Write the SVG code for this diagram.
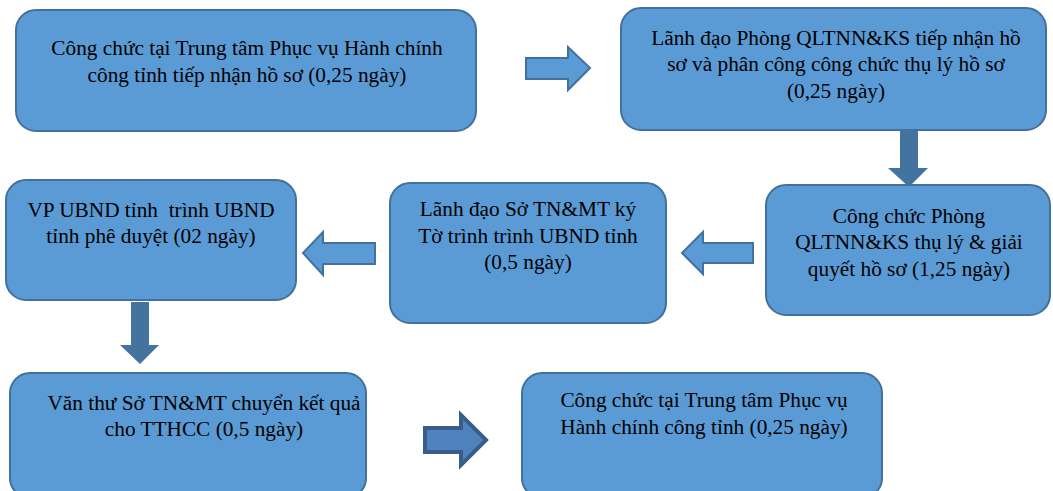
<svg xmlns="http://www.w3.org/2000/svg" width="1053" height="491" viewBox="0 0 1053 491">
<style>
.box{fill:#5B9BD5;stroke:#41719C;stroke-width:2}
.t{font-family:"Liberation Serif","Times New Roman",serif;font-size:21.3px;fill:#000;text-anchor:middle}
.ar{fill:#5B9BD5;stroke:#41719C;stroke-width:2}
.ad{fill:#44739F;stroke:none}
.a6{fill:#4F81BD;stroke:#385D8A;stroke-width:4}
</style>
<rect width="1053" height="491" fill="#fff"/>
<g id="connectors">
<polygon class="ar" points="526,58 568,58 568,47 590,68 568,90 568,79 526,79"/>
<polygon class="ad" points="900,126 918,126 918,168 928,168 909,187 888,168 900,168"/>
<polygon class="ar" points="375,243 323,243 323,232 303,253 323,275 323,264 375,264"/>
<polygon class="ar" points="753,243 703,243 703,232 682,253 703,274 703,263 753,263"/>
<polygon class="ad" points="131,302 149,302 149,345 159,345 140,364 120,345 131,345"/>
<polygon class="a6" points="425,428 461,428 461,415 486,440 461,465 461,452 425,452"/>
</g>
<g id="n1">
<rect class="box" x="16" y="10" width="460" height="121" rx="20"/>
<text class="t" x="247" y="55">Công chức tại Trung tâm Phục vụ Hành chính</text>
<text class="t" x="247" y="82">công tỉnh tiếp nhận hồ sơ (0,25 ngày)</text>
</g>
<g id="n2">
<rect class="box" x="621" y="8" width="425" height="122" rx="20"/>
<text class="t" x="836" y="45">Lãnh đạo Phòng QLTNN&amp;KS tiếp nhận hồ</text>
<text class="t" x="836" y="71">sơ và phân công công chức thụ lý hồ sơ</text>
<text class="t" x="836" y="98">(0,25 ngày)</text>
</g>
<g id="n3">
<rect class="box" x="766" y="185" width="284" height="130" rx="20"/>
<text class="t" x="909" y="223">Công chức Phòng</text>
<text class="t" x="909" y="249">QLTNN&amp;KS thụ lý &amp; giải</text>
<text class="t" x="909" y="276">quyết hồ sơ (1,25 ngày)</text>
</g>
<g id="n4">
<rect class="box" x="390" y="183" width="276" height="140" rx="20"/>
<text class="t" x="528" y="216">Lãnh đạo Sở TN&amp;MT ký</text>
<text class="t" x="528" y="243">Tờ trình trình UBND tỉnh</text>
<text class="t" x="528" y="269">(0,5 ngày)</text>
</g>
<g id="n5">
<rect class="box" x="6" y="180" width="290" height="120" rx="20"/>
<text class="t" x="151" y="217" xml:space="preserve">VP UBND tỉnh  trình UBND</text>
<text class="t" x="151" y="243">tỉnh phê duyệt (02 ngày)</text>
</g>
<g id="n6">
<rect class="box" x="10" y="373" width="356" height="125" rx="20"/>
<text class="t" x="204" y="410">Văn thư Sở TN&amp;MT chuyển kết quả</text>
<text class="t" x="204" y="436">cho TTHCC (0,5 ngày)</text>
</g>
<g id="n7">
<rect class="box" x="522" y="373" width="360" height="125" rx="20"/>
<text class="t" x="704" y="407">Công chức tại Trung tâm Phục vụ</text>
<text class="t" x="704" y="434">Hành chính công tỉnh (0,25 ngày)</text>
</g>
</svg>
